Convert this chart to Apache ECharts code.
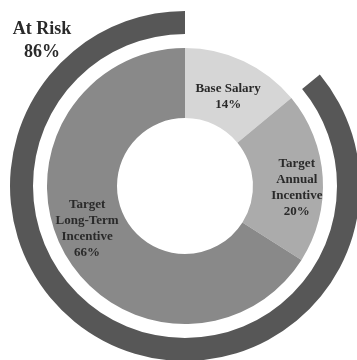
<!DOCTYPE html>
<html>
<head>
<meta charset="utf-8">
<script src="https://cdn.jsdelivr.net/npm/echarts@6/dist/echarts.min.js"></script>
<style>
html,body{margin:0;padding:0;background:#fff;}
#c{width:357px;height:360px;}
</style>
</head>
<body>
<div id="c"></div>
<script>
const categories = ['Base Salary', 'Target Annual Incentive', 'Target Long-Term Incentive'];
const labelLines = ['Base Salary', 'Target\nAnnual\nIncentive', 'Target\nLong-Term\nIncentive'];
const values = [14, 20, 66];
const atRisk = [false, true, true];
const sliceColors = ['#d6d6d6', '#ababab', '#898989'];
const ringColor = '#575757';
const atRiskTitle = 'At Risk';

const riskTotal = values.reduce((s, v, i) => s + (atRisk[i] ? v : 0), 0);
const safeTotal = values.reduce((s, v, i) => s + (atRisk[i] ? 0 : v), 0);
const labelOffsets = [[-2, 7], [6, 8], [-5, -8]];

const font = '"Liberation Serif", "Times New Roman", serif';
const chart = echarts.init(document.getElementById('c'), null, {renderer: 'canvas'});
chart.setOption({
  animation: false,
  graphic: [{
    type: 'text',
    x: 42, y: 41,
    style: {
      text: atRiskTitle + '\n' + riskTotal + '%',
      font: 'bold 18px ' + font,
      fill: '#2a2a2a',
      align: 'center',
      verticalAlign: 'middle',
      lineHeight: 23
    }
  }],
  series: [
    {
      type: 'pie',
      center: [185, 186],
      radius: [68, 138],
      startAngle: 90,
      clockwise: true,
      silent: true,
      avoidLabelOverlap: false,
      labelLine: {show: false},
      data: categories.map((c, i) => ({
        name: c,
        value: values[i],
        itemStyle: {color: sliceColors[i]},
        label: {offset: labelOffsets[i]}
      })),
      label: {
        show: true,
        position: 'inside',
        formatter: p => labelLines[p.dataIndex] + '\n' + p.value + '%',
        fontFamily: font,
        fontWeight: 'bold',
        fontSize: 13,
        lineHeight: 16,
        color: '#2a2a2a',
        align: 'center'
      }
    },
    {
      type: 'pie',
      center: [185, 186],
      radius: [152, 175],
      startAngle: 90,
      clockwise: true,
      silent: true,
      label: {show: false},
      labelLine: {show: false},
      data: [
        {name: 'not at risk', value: safeTotal, itemStyle: {color: 'rgba(0,0,0,0)'}},
        {name: atRiskTitle, value: riskTotal, itemStyle: {color: ringColor}}
      ]
    }
  ]
});
</script>
</body>
</html>
